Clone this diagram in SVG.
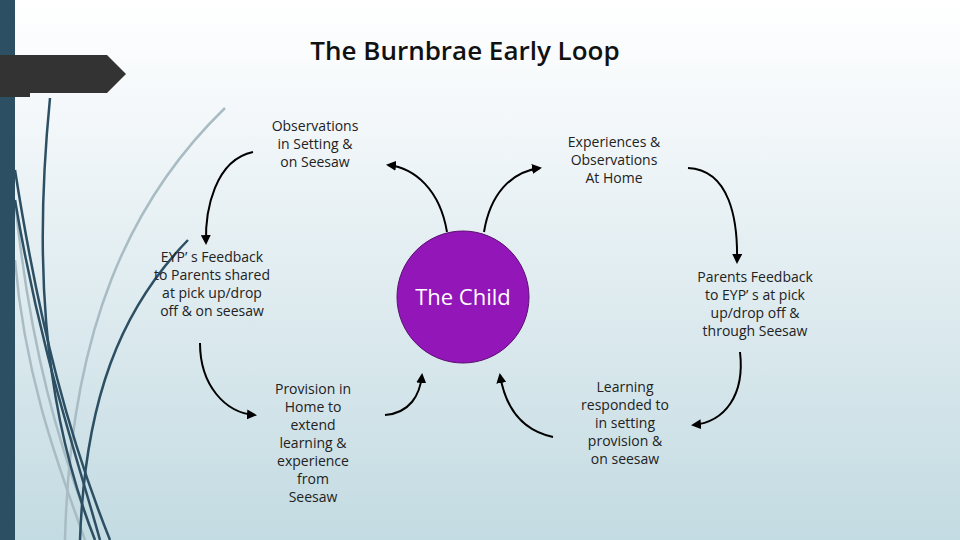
<svg xmlns="http://www.w3.org/2000/svg" width="960" height="540" viewBox="0 0 960 540">
<defs>
<linearGradient id="bg" x1="0" y1="0" x2="0" y2="1"><stop offset="0" stop-color="#ffffff"/><stop offset="0.2" stop-color="#f4f8fa"/><stop offset="1" stop-color="#c3dbe2"/></linearGradient>
<marker id="ah" viewBox="0 0 10 10" refX="8" refY="5" markerWidth="5" markerHeight="5" orient="auto"><path d="M0,0 L10,5 L0,10 z" fill="#000"/></marker>
<style>
.t{font-family:"Open Sans","Liberation Sans",sans-serif;font-size:14px;fill:#222;text-anchor:middle}
.c{fill:none;stroke:#000;stroke-width:2;marker-end:url(#ah)}
.d{fill:none;stroke:#2c4f64;stroke-width:2.5}
.g{fill:none;stroke:#a9bcc4;stroke-width:2.5}
</style>
</defs>
<rect width="960" height="540" fill="url(#bg)"/>
<g id="decor">
<path class="g" d="M225,108 C130,200 70,330 65,540"/>
<path class="g" d="M15,200 C30,350 60,450 95,540"/>
<path class="g" d="M15,260 C25,380 60,470 85,540"/>
<path class="d" d="M50,98 C35,250 40,400 95,540"/>
<path class="d" d="M15,170 C40,330 70,440 110,540"/>
<path class="d" d="M15,200 C40,350 75,450 100,540"/>
<path class="d" d="M188,240 C120,310 85,400 80,540"/>
<rect x="0" y="0" width="15" height="540" fill="#2c4f64"/>
<path d="M0,55 L107,55 L126,74 L107,93 L30,93 L30,97 L0,97 z" fill="#333"/>
</g>
<text x="465" y="60" font-family="'Open Sans','Liberation Sans',sans-serif" font-size="26" font-weight="600" fill="#111" text-anchor="middle">The Burnbrae Early Loop</text>
<g id="child"><circle cx="463" cy="297" r="66" fill="#9216b8" stroke="#5a1070" stroke-width="1"/><text x="463" y="305" font-family="'Open Sans','Liberation Sans',sans-serif" font-size="22" fill="#fff" text-anchor="middle">The Child</text></g>
<g id="obs"><text class="t" x="315" y="131">Observations</text><text class="t" x="315" y="149">in Setting &amp;</text><text class="t" x="315" y="167">on Seesaw</text></g>
<g id="exp"><text class="t" x="614" y="147">Experiences &amp;</text><text class="t" x="614" y="165">Observations</text><text class="t" x="614" y="183">At Home</text></g>
<g id="eyp"><text class="t" x="212" y="262">EYP’ s Feedback</text><text class="t" x="212" y="280">to Parents shared</text><text class="t" x="212" y="298">at pick up/drop</text><text class="t" x="212" y="316">off &amp; on seesaw</text></g>
<g id="par"><text class="t" x="755" y="282">Parents Feedback</text><text class="t" x="755" y="300">to EYP’ s at pick</text><text class="t" x="755" y="318">up/drop off &amp;</text><text class="t" x="755" y="336">through Seesaw</text></g>
<g id="prov"><text class="t" x="313" y="394">Provision in</text><text class="t" x="313" y="412">Home to</text><text class="t" x="313" y="430">extend</text><text class="t" x="313" y="448">learning &amp;</text><text class="t" x="313" y="466">experience</text><text class="t" x="313" y="484">from</text><text class="t" x="313" y="502">Seesaw</text></g>
<g id="learn"><text class="t" x="625" y="392">Learning</text><text class="t" x="625" y="410">responded to</text><text class="t" x="625" y="428">in setting</text><text class="t" x="625" y="446">provision &amp;</text><text class="t" x="625" y="464">on seesaw</text></g>
<g id="connectors">
<path class="c" d="M253,152 C215,160 205,210 206,243"/>
<path class="c" d="M447,232 C440,190 415,168 388,165"/>
<path class="c" d="M484,232 C490,195 510,172 540,168"/>
<path class="c" d="M688,168 C730,170 738,220 737,262"/>
<path class="c" d="M200,343 C200,385 225,413 255,415"/>
<path class="c" d="M385,415 C410,413 420,395 422,375"/>
<path class="c" d="M553,437 C520,430 505,405 500,375"/>
<path class="c" d="M740,352 C745,395 725,422 693,425"/>
</g>
</svg>
